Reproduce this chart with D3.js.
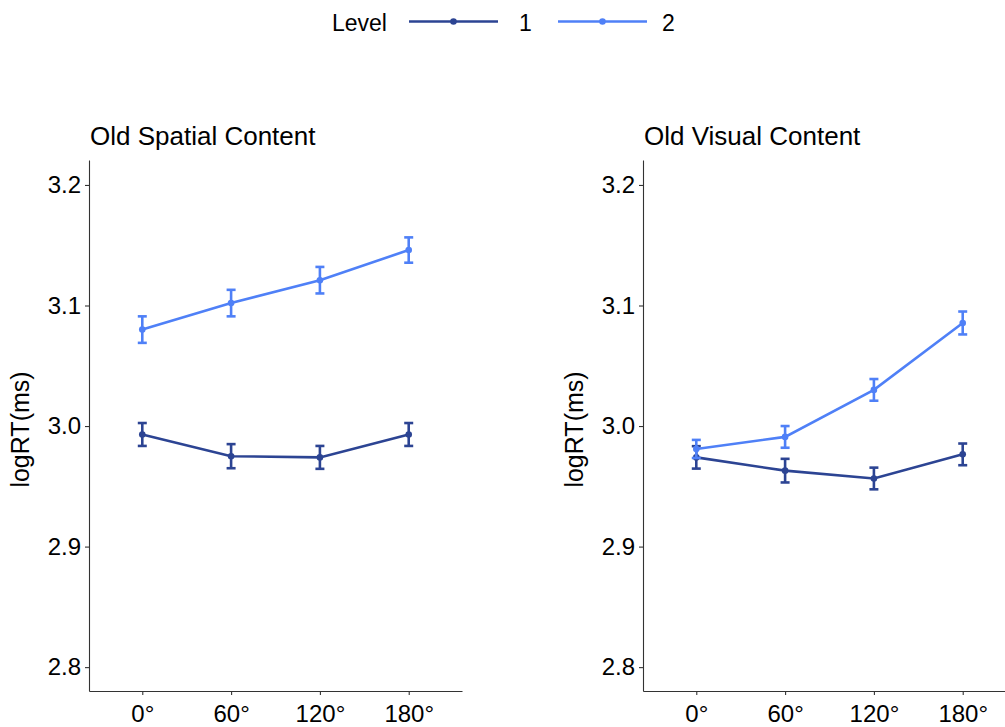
<!DOCTYPE html>
<html>
<head>
<meta charset="utf-8">
<script src="https://cdn.jsdelivr.net/npm/d3@7"></script>
<style>
  html, body { margin: 0; padding: 0; background: #fff; }
  svg { display: block; font-family: "Liberation Sans", Arial, sans-serif; }
</style>
</head>
<body>
<svg id="chart" width="1005" height="727"></svg>
<script>
// Rotation angles shown on the x axis
const angles = ["0°", "60°", "120°", "180°"];
const levels = ["1", "2"];
const panelTitles = ["Old Spatial Content", "Old Visual Content"];
const yTicks = [2.8, 2.9, 3.0, 3.1, 3.2];

// Mean logRT per angle, with standard errors
const spatialLevel1 = [2.993, 2.975, 2.974, 2.993];
const spatialLevel1Se = [0.0095, 0.010, 0.0095, 0.0095];
const spatialLevel2 = [3.080, 3.102, 3.121, 3.146];
const spatialLevel2Se = [0.011, 0.011, 0.011, 0.0105];
const visualLevel1 = [2.974, 2.963, 2.9565, 2.9765];
const visualLevel1Se = [0.0093, 0.0098, 0.009, 0.009];
const visualLevel2 = [2.981, 2.991, 3.030, 3.0855];
const visualLevel2Se = [0.0075, 0.009, 0.009, 0.0095];

const colors = { "1": "#2c4493", "2": "#4f80f7" };

const panels = [
  { title: panelTitles[0], series: [
    { level: "1", mean: spatialLevel1, se: spatialLevel1Se },
    { level: "2", mean: spatialLevel2, se: spatialLevel2Se } ] },
  { title: panelTitles[1], series: [
    { level: "1", mean: visualLevel1, se: visualLevel1Se },
    { level: "2", mean: visualLevel2, se: visualLevel2Se } ] }
];

const svg = d3.select("#chart");
const panelLeft = [89, 643];
const panelWidth = 373;
const plotTop = 160, plotBottom = 691;
const tickFont = 24;

const y = d3.scaleLinear().domain([2.7802, 3.2207]).range([plotBottom, plotTop]);

panels.forEach((p, i) => {
  const g = svg.append("g").attr("transform", `translate(${panelLeft[i]},0)`);
  const x = d3.scalePoint().domain(angles).range([0, panelWidth]).padding(0.6);

  // y axis
  const ya = g.append("g").call(d3.axisLeft(y).tickValues(yTicks).tickFormat(d3.format(".1f")).tickSize(4).tickSizeOuter(0));
  ya.select(".domain").attr("stroke", "#333").attr("stroke-width", 1.1);
  ya.selectAll(".tick line").attr("stroke", "#333").attr("stroke-width", 1.1);
  ya.selectAll(".tick text").attr("font-size", tickFont).attr("fill", "#000").attr("x", -8)
    .attr("font-family", "Liberation Sans, Arial, sans-serif");

  // x axis
  const xa = g.append("g").attr("transform", `translate(0,${plotBottom})`)
    .call(d3.axisBottom(x).tickSize(4).tickSizeOuter(0));
  xa.select(".domain").attr("stroke", "#333").attr("stroke-width", 1.1);
  xa.selectAll(".tick line").attr("stroke", "#333").attr("stroke-width", 1.1);
  xa.selectAll(".tick text").attr("font-size", tickFont).attr("fill", "#000").attr("y", 14)
    .attr("font-family", "Liberation Sans, Arial, sans-serif");

  // axis title
  svg.append("text")
    .attr("transform", `translate(${panelLeft[i] - 60},${(plotTop + plotBottom) / 2 + 4}) rotate(-90)`)
    .attr("text-anchor", "middle").attr("font-size", 25).attr("fill", "#000")
    .text("logRT(ms)");

  // panel title
  svg.append("text").attr("x", panelLeft[i] + 1).attr("y", 145)
    .attr("font-size", 26).attr("fill", "#000").text(p.title);

  const line = d3.line().x((d, k) => x(angles[k])).y(d => y(d));

  p.series.forEach(s => {
    const c = colors[s.level];
    const sg = g.append("g");
    sg.append("path").datum(s.mean).attr("d", line)
      .attr("fill", "none").attr("stroke", c).attr("stroke-width", 2.6);
    s.mean.forEach((m, k) => {
      const cx = x(angles[k]);
      const lo = y(m - s.se[k]), hi = y(m + s.se[k]);
      sg.append("line").attr("x1", cx).attr("x2", cx).attr("y1", lo).attr("y2", hi)
        .attr("stroke", c).attr("stroke-width", 2.6);
      [lo, hi].forEach(v => sg.append("line").attr("x1", cx - 4.5).attr("x2", cx + 4.5)
        .attr("y1", v).attr("y2", v).attr("stroke", c).attr("stroke-width", 2.6));
      sg.append("circle").attr("cx", cx).attr("cy", y(m)).attr("r", 3.3).attr("fill", c);
    });
  });
});

// legend
const lg = svg.append("g");
lg.append("text").attr("x", 332).attr("y", 31).attr("font-size", 23).attr("fill", "#000").text("Level");
const legendX = [409, 558];
const legendLabelX = [519, 662];
levels.forEach((lv, i) => {
  const c = colors[lv];
  lg.append("line").attr("x1", legendX[i]).attr("x2", legendX[i] + 89)
    .attr("y1", 21.5).attr("y2", 21.5).attr("stroke", c).attr("stroke-width", 2.6);
  lg.append("circle").attr("cx", legendX[i] + 44.5).attr("cy", 21.5).attr("r", 3.3).attr("fill", c);
  lg.append("text").attr("x", legendLabelX[i]).attr("y", 31).attr("font-size", 23).attr("fill", "#000").text(lv);
});
</script>
</body>
</html>
